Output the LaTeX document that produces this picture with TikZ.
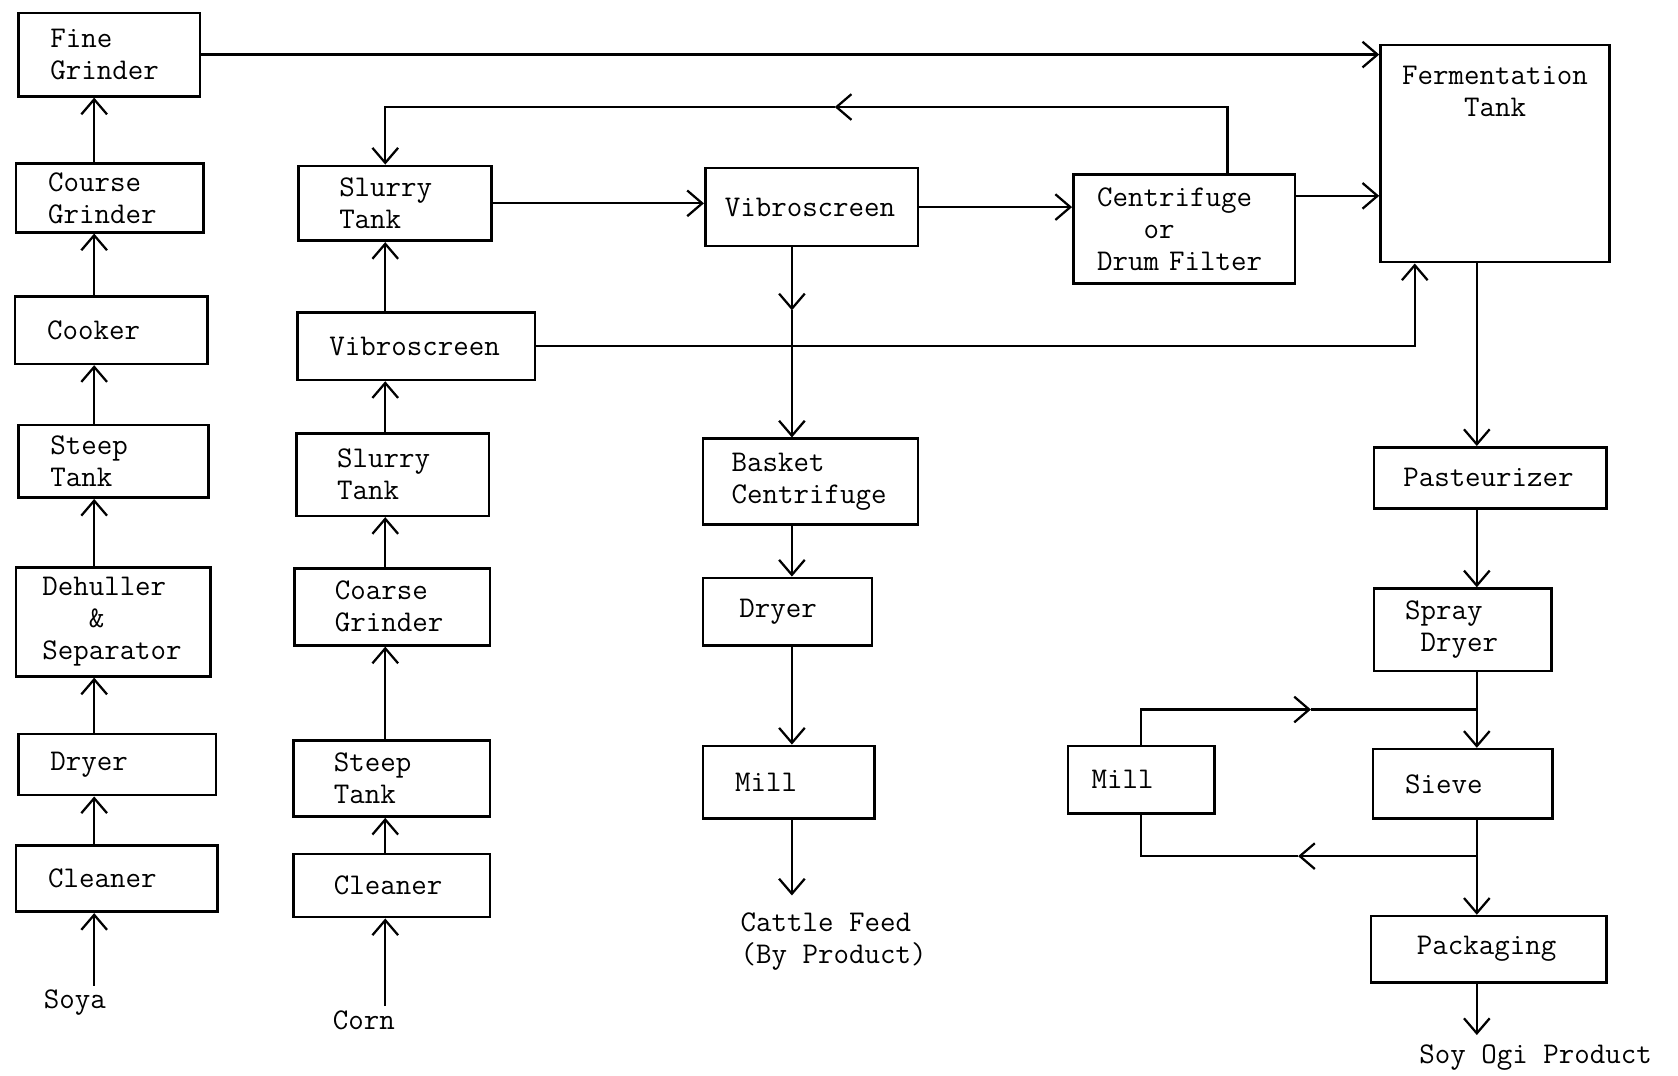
\documentclass[tikz,border=0pt]{standalone}
\usepackage{fontspec}
\usetikzlibrary{arrows.meta,positioning,calc}
\tikzset{
  base/.style={font=\ttfamily\fontsize{16}{17}\selectfont, text=black},
  box/.style={base, draw, line width=1.4pt, align=left, inner xsep=0.6cm, inner ysep=2pt},
  lbl/.style={base, align=left, inner sep=2pt},
  flow/.style={line width=1.2pt},
  arrow/.style={-{Straight Barb[length=2.8mm,width=4.8mm]}, line width=1.2pt},
}

\begin{document}
\begin{tikzpicture}[x=0.02cm,y=-0.02cm]
  \useasboundingbox (0,0) rectangle (1568,1005);

  \node[box,text width=2.2cm,minimum height=1.56cm] (fine) at (102,51) {Fine\\Grinder};
  \node[box,text width=2.3cm,minimum height=1.28cm] (coarseS) at (102.5,185) {Course\\Grinder};
  \node[box,text width=2.4cm,minimum height=1.26cm] (cooker) at (104,308.5) {Cooker};
  \node[box,text width=2.36cm,minimum height=1.36cm] (steepS) at (106,431) {Steep\\Tank};
  \node[box,text width=2.66cm,minimum height=2.04cm,inner xsep=0.49cm] (dehull) at (106,581) {Dehuller\\\phantom{Deh}\&\\Separator};
  \node[box,text width=2.5cm,minimum height=1.14cm] (dryS) at (109.5,714.5) {Dryer};
  \node[box,text width=2.56cm,minimum height=1.24cm] (cleanS) at (109,821) {Cleaner};
  \node[lbl] (soya) at (70,937) {Soya};

  \node[box,text width=2.08cm,minimum height=1.4cm,inner xsep=0.76cm] (slurA) at (369,190) {Slurry\\Tank};
  \node[box,text width=3.25cm,minimum height=1.26cm,inner xsep=0.595cm] (vibA) at (389,323.5) {Vibroscreen};
  \node[box,text width=2.08cm,minimum height=1.54cm,inner xsep=0.76cm] (slurB) at (367,443.5) {Slurry\\Tank};
  \node[box,text width=2.14cm,minimum height=1.44cm,inner xsep=0.76cm] (coarseC) at (366.5,567) {Coarse\\Grinder};
  \node[box,text width=2.16cm,minimum height=1.42cm,inner xsep=0.76cm] (steepC) at (366,727.5) {Steep\\Tank};
  \node[box,text width=2.16cm,minimum height=1.18cm,inner xsep=0.76cm] (cleanC) at (366,827.5) {Cleaner};
  \node[lbl] (corn) at (340,953) {Corn};

  \node[box,text width=3.25cm,minimum height=1.46cm,inner xsep=0.365cm] (vibB) at (758.5,193.5) {Vibroscreen};
  \node[box,text width=2.95cm,minimum height=1.6cm,inner xsep=0.535cm] (basket) at (757.5,450) {Basket\\Centrifuge};
  \node[box,text width=1.8cm,minimum height=1.26cm,inner xsep=0.68cm] (dryM) at (736,571.5) {Dryer};
  \node[box,text width=2.0cm,minimum height=1.36cm] (millM) at (737,731) {Mill};
  \node[lbl] (feed) at (779,880) {Cattle Feed\\(By Product)};

  \node[box,text width=3.25cm,minimum height=2.04cm,inner xsep=0.445cm] (centr) at (1106.5,214) {Centrifuge\\\phantom{Cen}or\\Drum Filter};
  \node[box,minimum width=4.28cm,minimum height=4.06cm,inner sep=0pt] (ferm) at (1397,143.5) {};
  \node[lbl,align=center,below=0.35cm of ferm.north] (fermtxt) {Fermentation\\Tank};
  \node[box,text width=3.25cm,minimum height=1.14cm,inner xsep=0.545cm] (past) at (1392.5,446.5) {Pasteurizer};
  \node[box,text width=2.16cm,minimum height=1.54cm,inner xsep=0.58cm] (spray) at (1367,588.5) {Spray\\\phantom{S}Dryer};
  \node[box,text width=2.16cm,minimum height=1.3cm] (sieve) at (1367,732.5) {Sieve};
  \node[box,text width=1.86cm,minimum height=1.26cm,inner xsep=0.44cm] (millR) at (1066.5,728.5) {Mill};
  \node[box,text width=2.68cm,minimum height=1.24cm,inner xsep=0.86cm] (pack) at (1391,887) {Packaging};
  \node[lbl] (ogi) at (1435,988) {Soy Ogi Product};

  \coordinate (sx) at (88,0);
  \coordinate (cx) at (360,0);
  \coordinate (mx) at (740,0);
  \coordinate (rx) at (1380,0);
  \coordinate (rt) at (1147,100);
  \coordinate (ret) at (780,100);
  \coordinate (vmid) at (740,290);
  \coordinate (j1) at (1380,663);
  \coordinate (j2) at (1380,800);
  \coordinate (m1) at (1225,663);
  \coordinate (m2) at (1213,800);

  \draw[arrow] (soya.north -| sx) -- (cleanS.south -| sx);
  \foreach \a/\b in {cleanS/dryS,dryS/dehull,dehull/steepS,steepS/cooker,cooker/coarseS,coarseS/fine}
    \draw[arrow] (\a.north -| sx) -- (\b.south -| sx);

  \draw[arrow] (corn.north -| cx) -- (cleanC.south -| cx);
  \foreach \a/\b in {cleanC/steepC,steepC/coarseC,coarseC/slurB,slurB/vibA,vibA/slurA}
    \draw[arrow] (\a.north -| cx) -- (\b.south -| cx);

  \draw[arrow] (fine.east) -- (fine.east -| ferm.west);
  \draw[arrow] (slurA.east) -- (slurA.east -| vibB.west);
  \draw[arrow] (vibB.east) -- (vibB.east -| centr.west);
  \draw[arrow] ([yshift=0.62cm]centr.east) -- ([yshift=0.62cm]centr.east -| ferm.west);
  \draw[arrow] (centr.north -| rt) -- (rt) -- (ret);
  \draw[arrow] (ret) -| (slurA.north -| cx);
  \draw[arrow] (vibA.east) -| ([xshift=-1.5cm]ferm.south);

  \draw[arrow] (vibB.south -| mx) -- (vmid);
  \draw[arrow] (vmid) -- (basket.north -| mx);
  \draw[arrow] (basket.south -| mx) -- (dryM.north -| mx);
  \draw[arrow] (dryM.south -| mx) -- (millM.north -| mx);
  \draw[arrow,shorten >=0.25cm] (millM.south -| mx) -- (feed.north -| mx);

  \draw[arrow] (ferm.south -| rx) -- (past.north -| rx);
  \draw[arrow] (past.south -| rx) -- (spray.north -| rx);
  \draw[flow] (spray.south -| rx) -- (j1);
  \draw[arrow] (j1) -- (sieve.north -| rx);
  \draw[flow] (sieve.south -| rx) -- (j2);
  \draw[arrow] (j2) -- (pack.north -| rx);
  \draw[arrow,shorten >=0.1cm] (pack.south -| rx) -- (ogi.north -| rx);
  \draw[arrow] (millR.north) |- (m1);
  \draw[flow] (m1) -- (j1);
  \draw[arrow] (j2) -- (m2);
  \draw[flow] (m2) -| (millR.south);
\end{tikzpicture}
\end{document}
